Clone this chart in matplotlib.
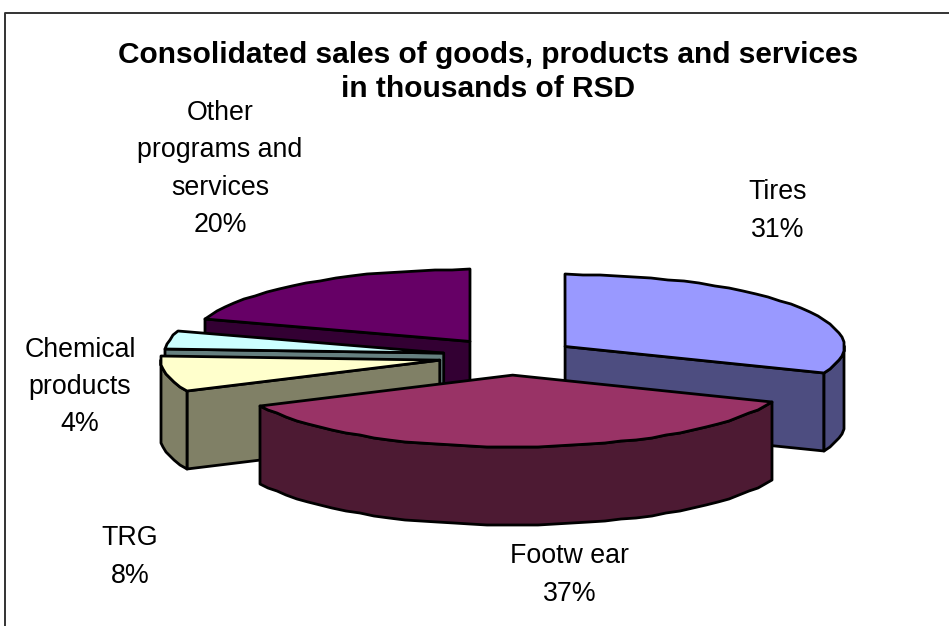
# Exploded 3D-style pie of consolidated sales

import numpy as np
import matplotlib.pyplot as plt

# data
categories = ["Tires", "Footw ear", "TRG", "Chemical\nproducts", "Other\nprograms and\nservices"]
shares = [31, 37, 8, 4, 20]

top_colors = ["#9999FF", "#993366", "#FFFFCC", "#CCFFFF", "#660066"]
side_colors = ["#4D4D80", "#4D1A33", "#808066", "#668080", "#330033"]

# pie geometry, in pixels
cx, cy = 510.5, 356.5
rx, ry = 279, 72
depth = 78
explode = [66, 69, 72, 68, 69]
squash = 0.27
label_xy = [(778, 211), (570, 575), (130, 557), (80, 387), (220, 169)]


def arc(ax0, ay0, a0, a1):
    # coarse steps snapped to whole pixels give the faceted rim
    n = max(2, int(abs(a1 - a0) / 3.5) + 1)
    t = np.radians(np.linspace(a0, a1, n))
    x = np.round(ax0 + rx * np.sin(t))
    y = np.round(ay0 - ry * np.cos(t))
    return x, y


def poly(ax, x, y, color, z):
    ax.fill(x, y, facecolor=color, edgecolor="black", linewidth=2, joinstyle="round", zorder=z)


fig = plt.figure(figsize=(9.49, 6.26), dpi=100)
ax = fig.add_axes([0, 0, 1, 1])
ax.set_xlim(0, 949)
ax.set_ylim(626, 0)
ax.axis("off")

# outer frame
ax.plot([5, 5, 949], [626, 13, 13], color="#333333", linewidth=1.4)

angles = np.cumsum([0] + shares) * 3.6
draw_order = [4, 3, 2, 0, 1]
z = 2
for i in draw_order:
    a0, a1 = angles[i], angles[i + 1]
    mid = np.radians((a0 + a1) / 2)
    px = cx + explode[i] * np.sin(mid)
    py = cy - explode[i] * squash * np.cos(mid)

    # cut faces that turn towards the viewer
    for a, visible in ((a0, np.sin(np.radians(a0)) < 0), (a1, np.sin(np.radians(a1)) > 0)):
        if visible:
            ex, ey = arc(px, py, a, a)
            poly(ax, [px, ex[0], ex[0], px], [py, ey[0], ey[0] + depth, py + depth], side_colors[i], z)
            z += 1

    # outer wall, front half of the rim only
    w0, w1 = max(a0, 90), min(a1, 270)
    if w1 > w0:
        wx, wy = arc(px, py, w0, w1)
        poly(ax, np.r_[wx, wx[::-1]], np.r_[wy, wy[::-1] + depth], side_colors[i], z)
        z += 1

    # top face
    tx, ty = arc(px, py, a0, a1)
    poly(ax, np.r_[px, tx], np.r_[py, ty], top_colors[i], z)
    z += 1

font = ["Liberation Sans", "DejaVu Sans"]
ax.text(488, 72, "Consolidated sales of goods, products and services\nin thousands of RSD",
        ha="center", va="center", family=font, fontsize=21.5, fontweight="bold", linespacing=1.3, zorder=z)

for name, share, (lx, ly) in zip(categories, shares, label_xy):
    ax.text(lx, ly, f"{name}\n{share}%", ha="center", va="center", family=font,
            fontsize=19.3, linespacing=1.57, color="black", zorder=z)

fig.savefig("out.png", dpi=100)
